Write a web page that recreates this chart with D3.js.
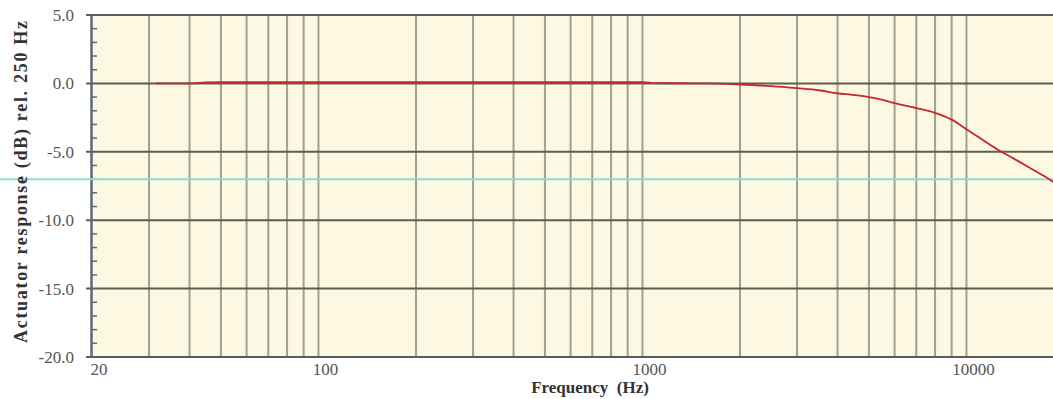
<!DOCTYPE html>
<html>
<head>
<meta charset="utf-8">
<script src="https://cdn.jsdelivr.net/npm/d3@7"></script>
<style>
  html, body { margin: 0; padding: 0; background: #fff; }
  svg { display: block; }
</style>
</head>
<body>
<div id="grafico"></div>
<script>
// dados ------------------------------------------------------------------
const frequencias = [31.5, 40, 45, 50, 63, 80, 100, 200, 250, 500, 1000, 1100, 1600, 2000, 2500, 3000,
  3500, 4000, 4500, 5000, 5500, 6000, 7000, 8000, 9000, 10000, 11000, 12500, 14000, 16000, 18000, 20000];
const resposta = [0, 0, 0.08, 0.1, 0.1, 0.1, 0.1, 0.1, 0.1, 0.1, 0.1, 0.02, 0, -0.08, -0.2, -0.35,
  -0.5, -0.72, -0.85, -1.0, -1.2, -1.45, -1.8, -2.15, -2.65, -3.35, -4.0, -4.85, -5.5, -6.3, -7.0, -7.8];
const ticks_x = [20, 100, 1000, 10000];
const grade_x = [30, 40, 50, 60, 70, 80, 90, 100, 200, 300, 400, 500, 600, 700, 800, 900,
  1000, 2000, 3000, 4000, 5000, 6000, 7000, 8000, 9000, 10000];
const ticks_y = [5, 0, -5, -10, -15, -20];
const linha_ref = -7; // linha ciano

// medidas ------------------------------------------------------------------
const largura = 1053, altura = 399;
const margem = { superior: 15, inferior: 42, esquerda: 92 };
const decada = 324;

const x = d3.scaleLog([20, 20000], [margem.esquerda, margem.esquerda + 3 * decada]);
const y = d3.scaleLinear([-20, 5], [altura - margem.inferior, margem.superior]);

const svg = d3.select("#grafico").append("svg")
    .attr("width", largura)
    .attr("height", altura)
    .attr("viewBox", [0, 0, largura, altura])
    .style("font-family", "'Liberation Serif', 'DejaVu Serif', serif");

// fundo
svg.append("rect")
    .attr("x", x(20)).attr("y", y(5))
    .attr("width", x(20000) - x(20))
    .attr("height", y(-20) - y(5))
    .attr("fill", "#fdf8e1");

// grade vertical
svg.append("g")
    .attr("class", "grade_x")
  .selectAll("line")
  .data(grade_x)
  .join("line")
    .attr("x1", d => x(d)).attr("x2", d => x(d))
    .attr("y1", y(5)).attr("y2", y(-20))
    .attr("stroke", "#a09f92")
    .attr("stroke-width", 2);

// grade horizontal + ticks maiores
svg.append("g")
    .attr("class", "grade_y")
  .selectAll("line")
  .data(ticks_y)
  .join("line")
    .attr("x1", margem.esquerda - 6).attr("x2", largura)
    .attr("y1", d => y(d)).attr("y2", d => y(d))
    .attr("stroke", "#5e5d55")
    .attr("stroke-width", 2);

// ticks menores no eixo y
svg.append("g")
    .attr("class", "ticks_menores")
  .selectAll("line")
  .data(d3.range(-20, 5, 1).filter(d => d % 5 !== 0))
  .join("line")
    .attr("x1", margem.esquerda).attr("x2", margem.esquerda + 5)
    .attr("y1", d => y(d)).attr("y2", d => y(d))
    .attr("stroke", "#5b6b74")
    .attr("stroke-width", 1.5);

// eixo y (linha)
svg.append("line")
    .attr("x1", margem.esquerda - 0.5).attr("x2", margem.esquerda - 0.5)
    .attr("y1", y(5)).attr("y2", y(-20))
    .attr("stroke", "#5b6b74")
    .attr("stroke-width", 2.5);

// linha de referência ciano
svg.append("line")
    .attr("x1", 0).attr("x2", largura)
    .attr("y1", y(linha_ref)).attr("y2", y(linha_ref))
    .attr("stroke", "#86e0d4")
    .attr("stroke-width", 2);

// curva de resposta
const linha = d3.line()
    .x((d, i) => x(frequencias[i]))
    .y(d => y(d))
    .curve(d3.curveMonotoneX);

svg.append("path")
    .datum(resposta)
    .attr("fill", "none")
    .attr("stroke", "#c4282e")
    .attr("stroke-width", 1.8)
    .attr("d", linha);

// rótulos eixo y
svg.append("g")
    .attr("fill", "#555")
    .attr("font-size", 17)
    .attr("text-anchor", "end")
  .selectAll("text")
  .data(ticks_y)
  .join("text")
    .attr("x", margem.esquerda - 18)
    .attr("y", d => y(d))
    .attr("dy", "0.35em")
    .text(d => d.toFixed(1));

// rótulos eixo x
svg.append("g")
    .attr("fill", "#555")
    .attr("font-size", 17)
    .attr("text-anchor", "middle")
  .selectAll("text")
  .data(ticks_x)
  .join("text")
    .attr("x", d => x(d) + 7)
    .attr("y", y(-20) + 18)
    .text(d => d);

// títulos
svg.append("text")
    .attr("x", 590)
    .attr("y", 393)
    .attr("text-anchor", "middle")
    .attr("font-size", 17)
    .attr("font-weight", "bold")
    .attr("fill", "#333")
    .attr("xml:space", "preserve")
    .text("Frequency  (Hz)");

svg.append("text")
    .attr("transform", `translate(27,${182}) rotate(-90)`)
    .attr("text-anchor", "middle")
    .attr("font-size", 18)
    .attr("font-weight", "bold")
    .attr("fill", "#333")
    .attr("textLength", 322)
    .attr("lengthAdjust", "spacing")
    .text("Actuator response (dB) rel. 250 Hz");
</script>
</body>
</html>
